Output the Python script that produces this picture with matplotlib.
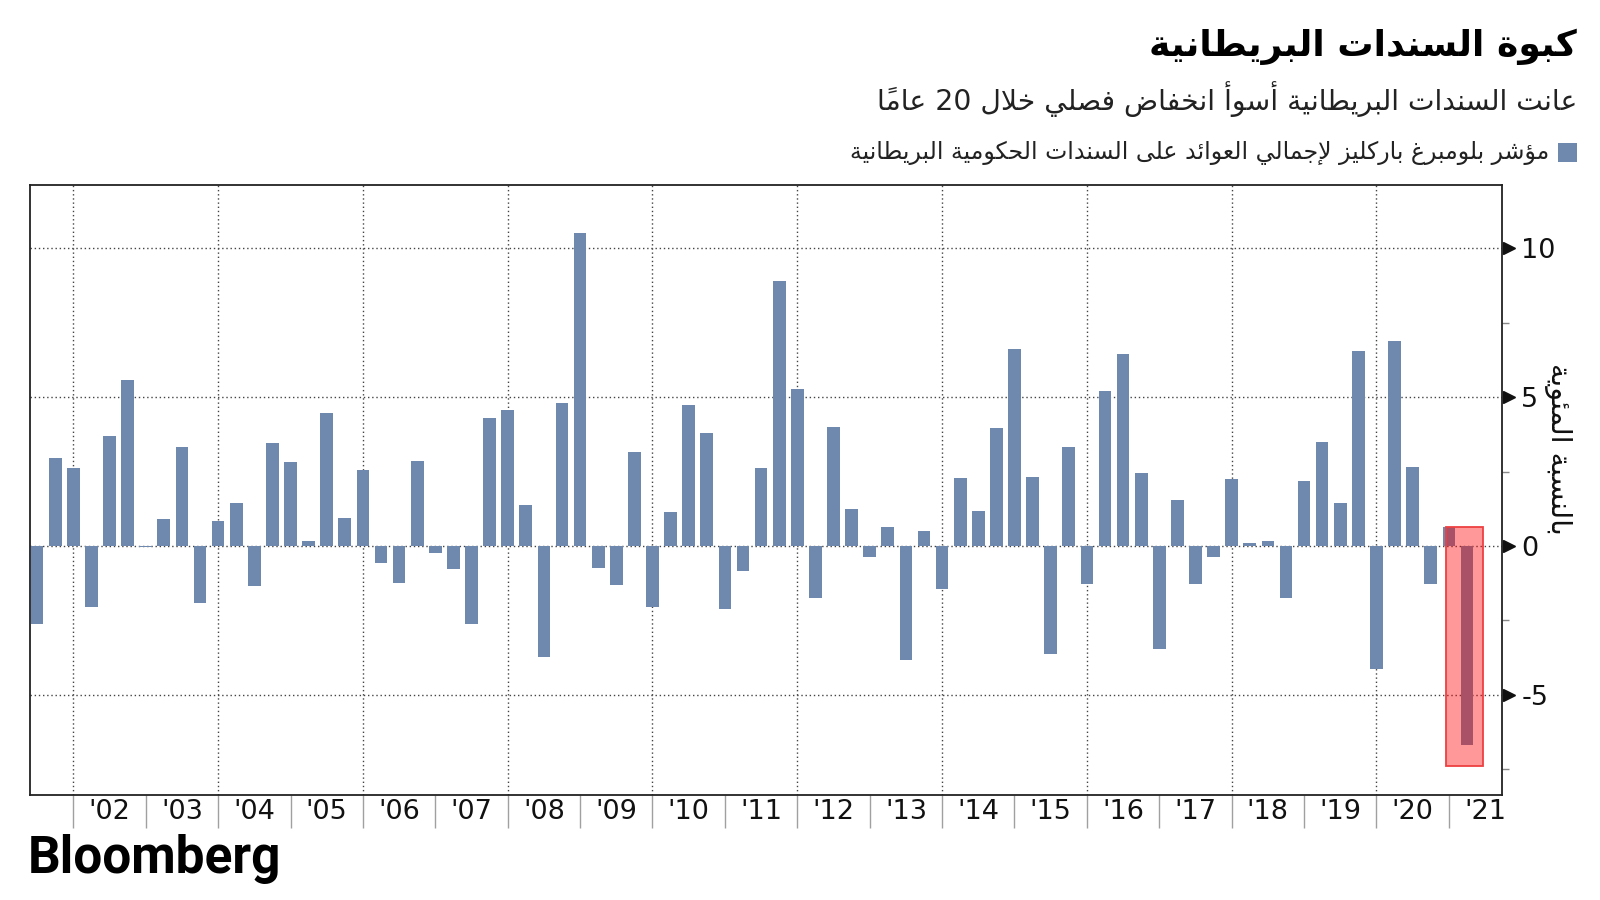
import matplotlib
matplotlib.use("Agg")
import matplotlib.pyplot as plt
import matplotlib.transforms as mtransforms
from matplotlib.patches import Rectangle

# ---------------- data ----------------
title_text = "كبوة السندات البريطانية"
subtitle_text = "عانت السندات البريطانية أسوأ انخفاض فصلي خلال 20 عاماً"
legend_text = "مؤشر بلومبرغ باركليز لإجمالي العوائد على السندات الحكومية البريطانية"
ylabel_text = "بالنسبة المئوية"
source_text = "Bloomberg"

start_year, start_q = 2001, 2   # first bar: 2001 Q2 (plotted at quarter end)
values = [
    -2.62, 2.97, 2.62,                 # 2001 Q2-Q4
    -2.05, 3.68, 5.58, -0.03,          # 2002
    0.91, 3.34, -1.91, 0.84,           # 2003
    1.44, -1.36, 3.46, 2.82,           # 2004
    0.18, 4.45, 0.95, 2.54,            # 2005
    -0.58, -1.23, 2.86, -0.25,         # 2006
    -0.78, -2.62, 4.31, 4.56,          # 2007
    1.39, -3.74, 4.80, 10.50,          # 2008
    -0.75, -1.32, 3.17, -2.05,         # 2009
    1.15, 4.72, 3.78, -2.12,           # 2010
    -0.84, 2.61, 8.91, 5.28,           # 2011
    -1.73, 3.99, 1.25, -0.37,          # 2012
    0.65, -3.82, 0.50, -1.43,          # 2013
    2.28, 1.19, 3.95, 6.63,            # 2014
    2.32, -3.63, 3.34, -1.27,          # 2015
    5.21, 6.46, 2.45, -3.46,           # 2016
    1.54, -1.27, -0.37, 2.25,          # 2017
    0.10, 0.18, -1.76, 2.17,           # 2018
    3.50, 1.44, 6.56, -4.12,           # 2019
    6.87, 2.65, -1.27, 0.65,           # 2020
    -6.67,                             # 2021 Q1
]
years = list(range(2002, 2022))
year_labels = ["'%02d" % (y % 100) for y in years]
yticks = [-5, 0, 5, 10]
ytick_labels = ["-5", "0", "5", "10"]
yminor = [-7.5, -2.5, 2.5, 7.5]

# ---------------- Arabic shaping (presentation forms) ----------------
_FORMS = {
    '\u0621': ('\uFE80', None, None, None),
    '\u0622': ('\uFE81', '\uFE82', None, None),
    '\u0623': ('\uFE83', '\uFE84', None, None),
    '\u0624': ('\uFE85', '\uFE86', None, None),
    '\u0625': ('\uFE87', '\uFE88', None, None),
    '\u0626': ('\uFE89', '\uFE8A', '\uFE8B', '\uFE8C'),
    '\u0627': ('\uFE8D', '\uFE8E', None, None),
    '\u0628': ('\uFE8F', '\uFE90', '\uFE91', '\uFE92'),
    '\u0629': ('\uFE93', '\uFE94', None, None),
    '\u062A': ('\uFE95', '\uFE96', '\uFE97', '\uFE98'),
    '\u062B': ('\uFE99', '\uFE9A', '\uFE9B', '\uFE9C'),
    '\u062C': ('\uFE9D', '\uFE9E', '\uFE9F', '\uFEA0'),
    '\u062D': ('\uFEA1', '\uFEA2', '\uFEA3', '\uFEA4'),
    '\u062E': ('\uFEA5', '\uFEA6', '\uFEA7', '\uFEA8'),
    '\u062F': ('\uFEA9', '\uFEAA', None, None),
    '\u0630': ('\uFEAB', '\uFEAC', None, None),
    '\u0631': ('\uFEAD', '\uFEAE', None, None),
    '\u0632': ('\uFEAF', '\uFEB0', None, None),
    '\u0633': ('\uFEB1', '\uFEB2', '\uFEB3', '\uFEB4'),
    '\u0634': ('\uFEB5', '\uFEB6', '\uFEB7', '\uFEB8'),
    '\u0635': ('\uFEB9', '\uFEBA', '\uFEBB', '\uFEBC'),
    '\u0636': ('\uFEBD', '\uFEBE', '\uFEBF', '\uFEC0'),
    '\u0637': ('\uFEC1', '\uFEC2', '\uFEC3', '\uFEC4'),
    '\u0638': ('\uFEC5', '\uFEC6', '\uFEC7', '\uFEC8'),
    '\u0639': ('\uFEC9', '\uFECA', '\uFECB', '\uFECC'),
    '\u063A': ('\uFECD', '\uFECE', '\uFECF', '\uFED0'),
    '\u0641': ('\uFED1', '\uFED2', '\uFED3', '\uFED4'),
    '\u0642': ('\uFED5', '\uFED6', '\uFED7', '\uFED8'),
    '\u0643': ('\uFED9', '\uFEDA', '\uFEDB', '\uFEDC'),
    '\u0644': ('\uFEDD', '\uFEDE', '\uFEDF', '\uFEE0'),
    '\u0645': ('\uFEE1', '\uFEE2', '\uFEE3', '\uFEE4'),
    '\u0646': ('\uFEE5', '\uFEE6', '\uFEE7', '\uFEE8'),
    '\u0647': ('\uFEE9', '\uFEEA', '\uFEEB', '\uFEEC'),
    '\u0648': ('\uFEED', '\uFEEE', None, None),
    '\u0649': ('\uFEEF', '\uFEF0', None, None),
    '\u064A': ('\uFEF1', '\uFEF2', '\uFEF3', '\uFEF4'),
    'LA\u0622': ('\uFEF5', '\uFEF6', None, None),
    'LA\u0623': ('\uFEF7', '\uFEF8', None, None),
    'LA\u0625': ('\uFEF9', '\uFEFA', None, None),
    'LA\u0627': ('\uFEFB', '\uFEFC', None, None),
}


def _is_mark(c):
    return '\u064B' <= c <= '\u0652'


def _shape_word(word):
    clusters = []
    for c in word:
        if _is_mark(c) and clusters:
            clusters[-1][1] += c
        else:
            clusters.append([c, ''])
    merged = []
    for cl in clusters:
        if (merged and merged[-1][0] == '\u0644' and not merged[-1][1]
                and cl[0] in ('\u0622', '\u0623', '\u0625', '\u0627')):
            merged[-1] = ['LA' + cl[0], cl[1]]
        else:
            merged.append(cl)
    out = []
    n = len(merged)
    for i, (b, m) in enumerate(merged):
        f = _FORMS.get(b)
        if f is None:
            out.append(b + m)
            continue
        prev = merged[i - 1][0] if i > 0 else None
        nxt = merged[i + 1][0] if i < n - 1 else None
        pj = prev is not None and prev in _FORMS and _FORMS[prev][2] is not None
        nj = (f[2] is not None and nxt is not None and nxt in _FORMS
              and _FORMS[nxt][1] is not None)
        if pj and nj:
            g = f[3]
        elif pj:
            g = f[1] or f[0]
        elif nj:
            g = f[2]
        else:
            g = f[0]
        out.append(g + m)
    return ''.join(reversed(out))


def ar(text):
    words = text.split(' ')
    shaped = []
    for w in words:
        if any('\u0600' <= c <= '\u06FF' for c in w):
            shaped.append(_shape_word(w))
        else:
            shaped.append(w)
    return ' '.join(reversed(shaped))


# ---------------- figure ----------------
bar_color = '#6f88ad'
fig = plt.figure(figsize=(16, 9), dpi=100)
ax = fig.add_axes([0.0185, 0.1167, 0.9202, 0.6777])

xs = []
y, q = start_year, start_q
for _ in values:
    xs.append(y + q * 0.25)
    q += 1
    if q > 4:
        q = 1
        y += 1

ax.bar(xs, values, width=0.175, color=bar_color, zorder=2)

# highlight around the latest quarter
last_x, last_v = xs[-1], values[-1]
ax.add_patch(Rectangle((last_x - 0.29, last_v - 0.72), 0.51, 0.65 - (last_v - 0.72),
                       facecolor=(1, 0, 0, 0.4), edgecolor=(0.93, 0.25, 0.25, 1.0),
                       lw=1.3, zorder=3))

ax.set_xlim(2001.396, 2021.733)
ax.set_ylim(-8.36, 12.12)

# grid
for yv in yticks:
    ax.axhline(yv, color='#444444', lw=1.0, ls=(0, (1, 2)), zorder=1)
for yr in years[::2]:
    ax.axvline(yr, color='#444444', lw=1.0, ls=(0, (1, 2)), zorder=1)

# x axis
ax.set_xticks(years)
ax.set_xticklabels([''] * len(years))
ax.tick_params(axis='x', which='major', length=24, width=1.0, color='#a0a0a0', direction='out')
ax.set_xticks([yr + 0.5 for yr in years], minor=True)
ax.set_xticklabels(year_labels, minor=True)
ax.tick_params(axis='x', which='minor', length=0, pad=3, labelsize=19.5, labelcolor='#111111')

# y axis on the right
ax.yaxis.tick_right()
ax.set_yticks(yticks)
ax.set_yticklabels(ytick_labels)
ax.tick_params(axis='y', which='major', length=0, pad=14, labelsize=19.5, labelcolor='#111111')
ax.set_yticks(yminor, minor=True)
ax.tick_params(axis='y', which='minor', length=5, width=1.0, color='#888888', direction='out')
trans = mtransforms.blended_transform_factory(ax.transAxes, ax.transData)
ax.plot([1.005] * len(yticks), yticks, linestyle='none', marker='>', markersize=8,
        color='#111111', transform=trans, clip_on=False, zorder=5)

for s in ax.spines.values():
    s.set_color('#222222')
    s.set_linewidth(1.3)

# texts
afont = ['DejaVu Sans']
fig.text(0.9856, 0.948, ar(title_text), ha='right', va='center', fontsize=26,
         fontweight='bold', family=afont, color='#000000')
fig.text(0.9856, 0.890, ar(subtitle_text), ha='right', va='center', fontsize=20.3,
         family=afont, color='#222222')
fig.patches.append(Rectangle((0.9738, 0.820), 0.0118, 0.021, transform=fig.transFigure,
                             facecolor=bar_color, edgecolor='none', figure=fig))
fig.text(0.968, 0.830, ar(legend_text), ha='right', va='center', fontsize=17,
         family=afont, color='#222222')
fig.text(0.9735, 0.501, ar(ylabel_text), ha='center', va='center', rotation=270,
         fontsize=20.5, family=afont, color='#111111')
fig.text(0.0175, 0.046, source_text, ha='left', va='center', fontsize=37,
         fontweight='bold', family=['Roboto', 'DejaVu Sans'], color='#000000')

fig.savefig('out.png', dpi=100)
